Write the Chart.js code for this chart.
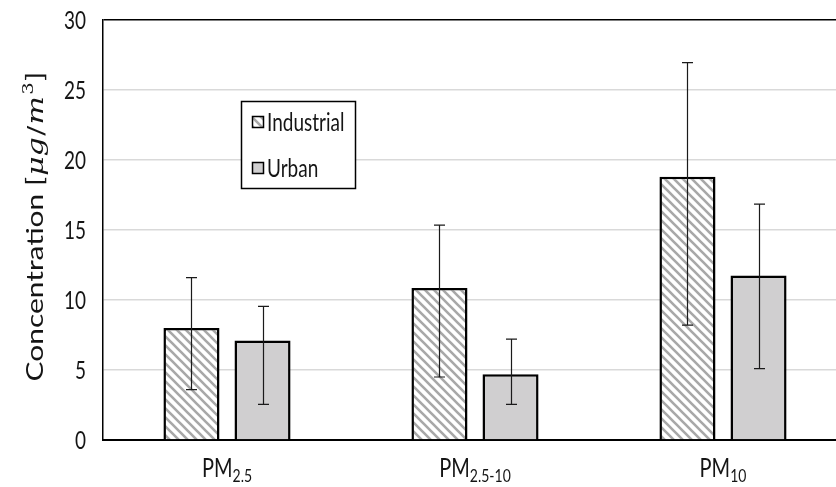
<!DOCTYPE html>
<html>
<head>
<meta charset="utf-8">
<script src="https://cdn.jsdelivr.net/npm/chart.js@4/dist/chart.umd.min.js"></script>
<style>
  html, body { margin: 0; padding: 0; background: #fff; overflow: hidden; }
  #wrap { width: 850px; height: 487px; }
</style>
</head>
<body>
<div id="wrap"><canvas id="c" width="850" height="487"></canvas></div>
<script>
// Particulate matter concentrations (µg/m³), mean with low/high error limits
const categories = ['PM2.5', 'PM2.5-10', 'PM10'];
const seriesNames = ['Industrial', 'Urban'];
const industrial = [8.0, 10.85, 18.8];
const urban = [7.1, 4.7, 11.75];
const industrialLow = [3.6, 4.5, 8.2];
const industrialHigh = [11.6, 15.35, 26.95];
const urbanLow = [2.55, 2.55, 5.1];
const urbanHigh = [9.55, 7.2, 16.85];
const yTicks = [0, 5, 10, 15, 20, 25, 30];

const SANS = 'Lato, "Open Sans", sans-serif';
const SERIF = '"DejaVu Serif", "Liberation Serif", serif';
const TEXT = '#151515';
const STRETCH = 1.3;   // tall, narrow lettering

const ctx0 = document.getElementById('c').getContext('2d');

// Diagonal hatch used for the industrial bars
const hatch = (function () {
  const s = 9;
  const t = document.createElement('canvas');
  t.width = s; t.height = s;
  const g = t.getContext('2d');
  g.fillStyle = '#ffffff';
  g.fillRect(0, 0, s, s);
  g.strokeStyle = '#a8a8a8';
  g.lineWidth = 2.6;
  g.beginPath();
  g.moveTo(-2, -2); g.lineTo(s + 2, s + 2);
  g.moveTo(-2, s - 2); g.lineTo(2, s + 2);
  g.moveTo(s - 2, -2); g.lineTo(s + 2, 2);
  g.stroke();
  return ctx0.createPattern(t, 'repeat');
})();
const urbanFill = '#d0cfd0';

const errors = [
  { low: industrialLow, high: industrialHigh },
  { low: urbanLow, high: urbanHigh }
];

// draw text with vertical stretch; (x, y) is the baseline anchor
function tallText(ctx, str, x, y, font, align) {
  ctx.save();
  ctx.font = font;
  ctx.textAlign = align || 'left';
  ctx.textBaseline = 'alphabetic';
  ctx.translate(x, y);
  ctx.scale(1, STRETCH);
  ctx.fillText(str, 0, 0);
  ctx.restore();
}

// Error bars with caps
const errorBars = {
  id: 'errorBars',
  afterDatasetsDraw(chart) {
    const ctx = chart.ctx;
    const y = chart.scales.y;
    ctx.save();
    ctx.strokeStyle = '#1a1a1a';
    ctx.lineWidth = 1.2;
    errors.forEach((e, di) => {
      const meta = chart.getDatasetMeta(di);
      meta.data.forEach((bar, i) => {
        const x = Math.round(bar.x) + 0.5;
        const yl = y.getPixelForValue(e.low[i]);
        const yh = y.getPixelForValue(e.high[i]);
        ctx.beginPath();
        ctx.moveTo(x, yl); ctx.lineTo(x, yh);
        ctx.moveTo(x - 5.5, yl); ctx.lineTo(x + 5.5, yl);
        ctx.moveTo(x - 5.5, yh); ctx.lineTo(x + 5.5, yh);
        ctx.stroke();
      });
    });
    ctx.restore();
  }
};

// Tick labels, category labels with subscripts, legend box and axis title
const decorations = {
  id: 'decorations',
  afterDraw(chart) {
    const ctx = chart.ctx;
    const xs = chart.scales.x;
    const ys = chart.scales.y;
    ctx.save();
    ctx.fillStyle = TEXT;

    // y tick labels
    yTicks.forEach(v => {
      tallText(ctx, String(v), 86, ys.getPixelForValue(v) + 9, '19px ' + SANS, 'right');
    });

    // category labels
    const base = 477;
    categories.forEach((c, i) => {
      const main = c.slice(0, 2);
      const sub = c.slice(2);
      ctx.font = '20px ' + SANS;
      const w1 = ctx.measureText(main).width;
      ctx.font = '14px ' + SANS;
      const w2 = ctx.measureText(sub).width;
      const cx = xs.getPixelForValue(i);
      const x0 = cx - (w1 + w2) / 2;
      tallText(ctx, main, x0, base, '20px ' + SANS);
      tallText(ctx, sub, x0 + w1, base + 5, '14px ' + SANS);
    });

    // Legend
    const lx = 241.5, ly = 101.5, lw = 114, lh = 87;
    ctx.fillStyle = '#fff';
    ctx.fillRect(lx, ly, lw, lh);
    ctx.strokeStyle = '#000';
    ctx.lineWidth = 1.5;
    ctx.strokeRect(lx, ly, lw, lh);
    const fills = [hatch, urbanFill];
    const rows = [122, 168];
    seriesNames.forEach((n, i) => {
      ctx.fillStyle = fills[i];
      ctx.fillRect(252.5, rows[i] - 5.5, 11, 11);
      ctx.strokeStyle = '#000';
      ctx.lineWidth = 1.5;
      ctx.strokeRect(252.5, rows[i] - 5.5, 11, 11);
      ctx.fillStyle = TEXT;
      tallText(ctx, n, 267, rows[i] + 9, '19px ' + SANS);
    });

    // Y axis title: Concentration [μg/m³]
    const parts = [
      { t: 'Concentration [', f: '23px ' + SANS, dy: 0 },
      { t: 'μg', f: 'italic 23px ' + SERIF, dy: 0 },
      { t: '/', f: '23px ' + SERIF, dy: 0 },
      { t: 'm', f: 'italic 23px ' + SERIF, dy: 0 },
      { t: '3', f: '15px ' + SERIF, dy: -10 },
      { t: ']', f: '23px ' + SANS, dy: 0 }
    ];
    let total = 0;
    parts.forEach(p => { ctx.font = p.f; p.w = ctx.measureText(p.t).width; total += p.w + 1; });
    ctx.translate(43, 226);
    ctx.rotate(-Math.PI / 2);
    ctx.scale(STRETCH, 1);
    ctx.textBaseline = 'alphabetic';
    ctx.textAlign = 'left';
    ctx.fillStyle = TEXT;
    let px = -total / 2;
    parts.forEach(p => {
      ctx.font = p.f;
      ctx.fillText(p.t, px, p.dy);
      px += p.w + 1;
    });
    ctx.restore();
  }
};

new Chart(document.getElementById('c'), {
  type: 'bar',
  data: {
    labels: categories,
    datasets: [
      {
        label: seriesNames[0],
        data: industrial,
        backgroundColor: hatch,
        borderColor: '#000',
        borderWidth: 2.5,
        barPercentage: 0.789,
        categoryPercentage: 0.573
      },
      {
        label: seriesNames[1],
        data: urban,
        backgroundColor: urbanFill,
        borderColor: '#000',
        borderWidth: 2.5,
        barPercentage: 0.789,
        categoryPercentage: 0.573
      }
    ]
  },
  options: {
    responsive: false,
    animation: false,
    devicePixelRatio: 1,
    layout: { padding: { left: 0, top: 20, right: 3, bottom: 0 } },
    plugins: {
      legend: { display: false },
      tooltip: { enabled: false },
      title: { display: false }
    },
    scales: {
      x: {
        grid: { display: false, drawTicks: false },
        border: { display: true, color: '#000', width: 2 },
        ticks: { display: false },
        afterFit(s) { s.height = 47; }
      },
      y: {
        min: 0,
        max: 30,
        afterBuildTicks(s) { s.ticks = yTicks.map(v => ({ value: v })); },
        grid: {
          drawTicks: false,
          color: c => (c.tick && c.tick.value === 30) ? '#000' : '#d9d9d9',
          lineWidth: 1.5
        },
        border: { display: true, color: '#000', width: 1.5 },
        ticks: { display: false },
        afterFit(s) { s.width = 103; }
      }
    }
  },
  plugins: [errorBars, decorations]
});
</script>
</body>
</html>
